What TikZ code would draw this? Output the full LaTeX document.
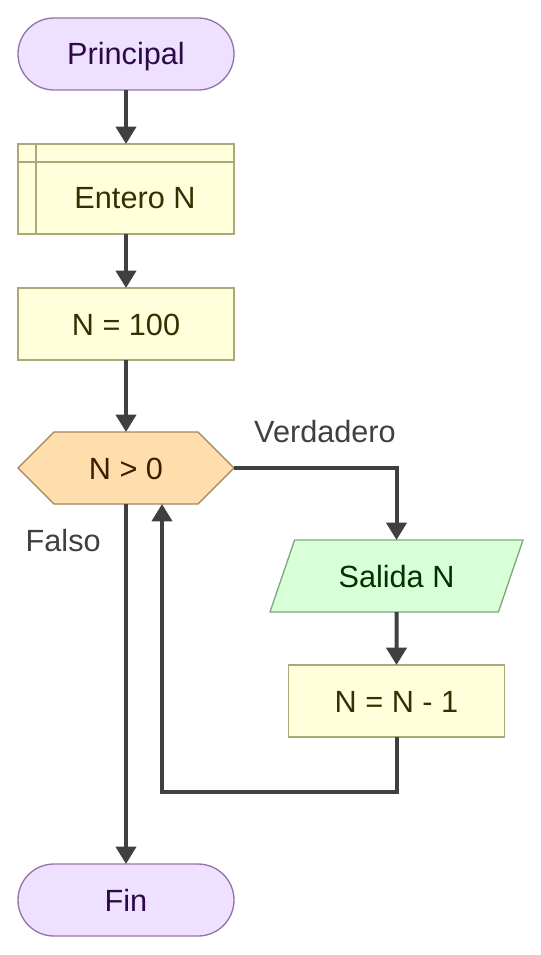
\documentclass[tikz,border=0pt]{standalone}
\usepackage{fontspec}
\setmainfont{Liberation Sans}
\usetikzlibrary{shapes.geometric, shapes.symbols, arrows.meta,
                positioning, calc}
\definecolor{termfill}{RGB}{238,224,255}
\definecolor{termline}{RGB}{150,115,170}
\definecolor{termtext}{RGB}{45,10,70}
\definecolor{procfill}{RGB}{255,255,220}
\definecolor{procline}{RGB}{170,170,120}
\definecolor{proctext}{RGB}{50,50,0}
\definecolor{condfill}{RGB}{255,222,173}
\definecolor{condline}{RGB}{165,130,90}
\definecolor{condtext}{RGB}{60,30,0}
\definecolor{iofill}{RGB}{217,255,217}
\definecolor{ioline}{RGB}{125,170,125}
\definecolor{iotext}{RGB}{0,50,0}
\definecolor{flowgray}{RGB}{64,64,64}

\begin{document}
\begin{tikzpicture}[
  x=0.75pt, y=-0.75pt,
  node distance=40.5pt,
  every node/.style={font=\fontsize{23}{27}\selectfont, outer sep=0pt,
                     text height=16.5pt, text depth=0pt},
  term/.style={draw=termline, fill=termfill, text=termtext, line width=1pt,
               rounded corners=27pt, minimum width=162pt, minimum height=54pt},
  proc/.style={draw=procline, fill=procfill, text=proctext, line width=1pt,
               minimum width=162pt, minimum height=54pt},
  decl/.style={proc, minimum height=67.5pt,
               path picture={\draw[procline, line width=1pt]
                 ([xshift=13.5pt]path picture bounding box.north west) --
                 ([xshift=13.5pt]path picture bounding box.south west)
                 ([yshift=-13.5pt]path picture bounding box.north west) --
                 ([yshift=-13.5pt]path picture bounding box.north east);}},
  cond/.style={signal, signal to=west and east, signal pointer angle=90,
               draw=condline, fill=condfill, text=condtext, line width=1pt,
               minimum width=162pt, minimum height=54pt},
  io/.style={trapezium, trapezium left angle=64, trapezium right angle=116,
             trapezium stretches=true, draw=ioline, fill=iofill, text=iotext,
             line width=1pt, minimum width=189.75pt, minimum height=54pt},
  flow/.style={-{Triangle[width=15pt,length=13pt]}, line width=3pt, draw=flowgray},
  lbl/.style={text=flowgray, inner sep=0pt},
]
\useasboundingbox (0,0) rectangle (541,955);

\node[term] (princ) at (126,54) {Principal};
\node[decl, below=of princ] (ent) {};
\node[text=proctext] (enttxt) at ($(ent.center)+(6.75pt,-6.75pt)$) {Entero N};
\node[proc, below=of ent] (n100) {N = 100};
\node[cond, below=54pt of n100] (test) {N > 0};
\node[io] (out) at (396.5,576) {Salida N};
\node[proc, below=39.75pt of out] (dec) {N = N - 1};
\node[term, below=270pt of test] (fin) {Fin};
\coordinate (back) at (162,792);

%% main chain
\draw[flow] (princ) -- (ent);
\draw[flow] (ent) -- (n100);
\draw[flow] (n100) -- (test);
\draw[flow] (test.east) -| node[lbl, pos=0.28, above=19pt]{Verdadero} (out.north);
\draw[flow] (out) -- (dec);
\draw[flow] (dec.south) |- (back) -- (test.south -| back);
\draw[flow] (test) -- node[lbl, pos=0.1, left=19pt]{Falso} (fin);

\end{tikzpicture}
\end{document}
